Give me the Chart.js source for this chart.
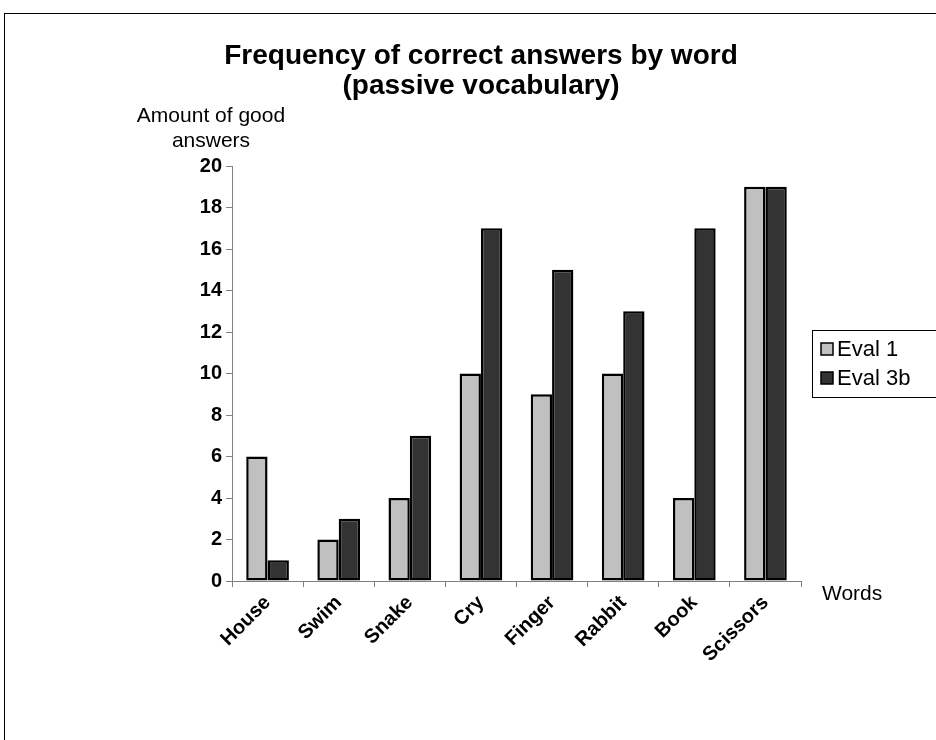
<!DOCTYPE html>
<html>
<head>
<meta charset="utf-8">
<script src="https://cdn.jsdelivr.net/npm/chart.js@4.4.0/dist/chart.umd.min.js"></script>
<style>
    html, body { margin: 0; padding: 0; background: #fff; }
    #wrap { width: 936px; height: 740px; }
</style>
</head>
<body>
<div id="wrap"><canvas id="chart" width="936" height="740"></canvas></div>
<script>
const words = ['House', 'Swim', 'Snake', 'Cry', 'Finger', 'Rabbit', 'Book', 'Scissors'];
const eval1 = [6, 2, 4, 10, 9, 10, 4, 19];
const eval3b = [1, 3, 7, 17, 15, 13, 17, 19];
const yTicks = [0, 2, 4, 6, 8, 10, 12, 14, 16, 18, 20];

const titleLines = ['Frequency of correct answers by word', '(passive vocabulary)'];
const yTitleLines = ['Amount of good', 'answers'];
const xTitle = 'Words';

const FONT = 'Arial, "Liberation Sans", sans-serif';

// frame, titles and the boxed legend, drawn like the old spreadsheet chart
const decorations = {
    id: 'decorations',
    afterDraw(chart) {
        const ctx = chart.ctx;
        const area = chart.chartArea;
        ctx.save();

        ctx.strokeStyle = '#000';
        ctx.lineWidth = 1;
        ctx.strokeRect(4.5, 13.5, 1000, 1000);

        ctx.fillStyle = '#000';
        ctx.textAlign = 'center';
        ctx.textBaseline = 'middle';
        ctx.font = 'bold 28px ' + FONT;
        titleLines.forEach((t, i) => ctx.fillText(t, 481, 56 + i * 30));

        ctx.font = '21px ' + FONT;
        yTitleLines.forEach((t, i) => ctx.fillText(t, 211, 116 + i * 25));

        ctx.textAlign = 'left';
        ctx.fillText(xTitle, area.right + 21, 594);

        // legend box
        ctx.lineWidth = 1;
        ctx.strokeRect(812.5, 330.5, 200, 67);
        ctx.font = '22px ' + FONT;
        chart.data.datasets.forEach((ds, i) => {
            const y = 349 + i * 29;
            ctx.fillStyle = ds.backgroundColor;
            ctx.fillRect(821, y - 6, 12, 12);
            ctx.strokeStyle = '#000';
            ctx.lineWidth = 1.5;
            ctx.strokeRect(821, y - 6, 12, 12);
            ctx.fillStyle = '#000';
            ctx.fillText(ds.label, 837, y + 1);
        });

        ctx.restore();
    }
};

new Chart(document.getElementById('chart'), {
    type: 'bar',
    data: {
        labels: words,
        datasets: [
            {
                label: 'Eval 1',
                data: eval1,
                backgroundColor: '#c0c0c0',
                borderColor: '#000',
                borderWidth: 2.5,
                borderSkipped: false,
                barPercentage: 1,
                categoryPercentage: 0.6
            },
            {
                label: 'Eval 3b',
                data: eval3b,
                backgroundColor: '#333333',
                borderColor: '#000',
                borderWidth: 2.5,
                borderSkipped: false,
                barPercentage: 1,
                categoryPercentage: 0.6
            }
        ]
    },
    options: {
        responsive: false,
        animation: false,
        layout: { padding: { top: 166, right: 135, left: 0, bottom: 0 } },
        plugins: {
            legend: { display: false },
            title: { display: false },
            tooltip: { enabled: false }
        },
        scales: {
            x: {
                afterFit: (scale) => { scale.height = 159; },
                grid: { drawOnChartArea: false, color: '#808080', tickLength: 6, offset: true },
                border: { color: '#808080', width: 1 },
                ticks: {
                    color: '#000',
                    font: { family: FONT, size: 20, weight: 'bold' },
                    maxRotation: 45,
                    minRotation: 45,
                    padding: 4
                }
            },
            y: {
                min: 0,
                max: 20,
                afterFit: (scale) => { scale.width = 232; },
                afterBuildTicks: (scale) => { scale.ticks = yTicks.map(v => ({ value: v })); },
                grid: { drawOnChartArea: false, color: '#808080', tickLength: 6 },
                border: { color: '#808080', width: 1 },
                ticks: {
                    color: '#000',
                    font: { family: FONT, size: 20, weight: 'bold' },
                    padding: 4
                }
            }
        }
    },
    plugins: [decorations]
});
</script>
</body>
</html>
